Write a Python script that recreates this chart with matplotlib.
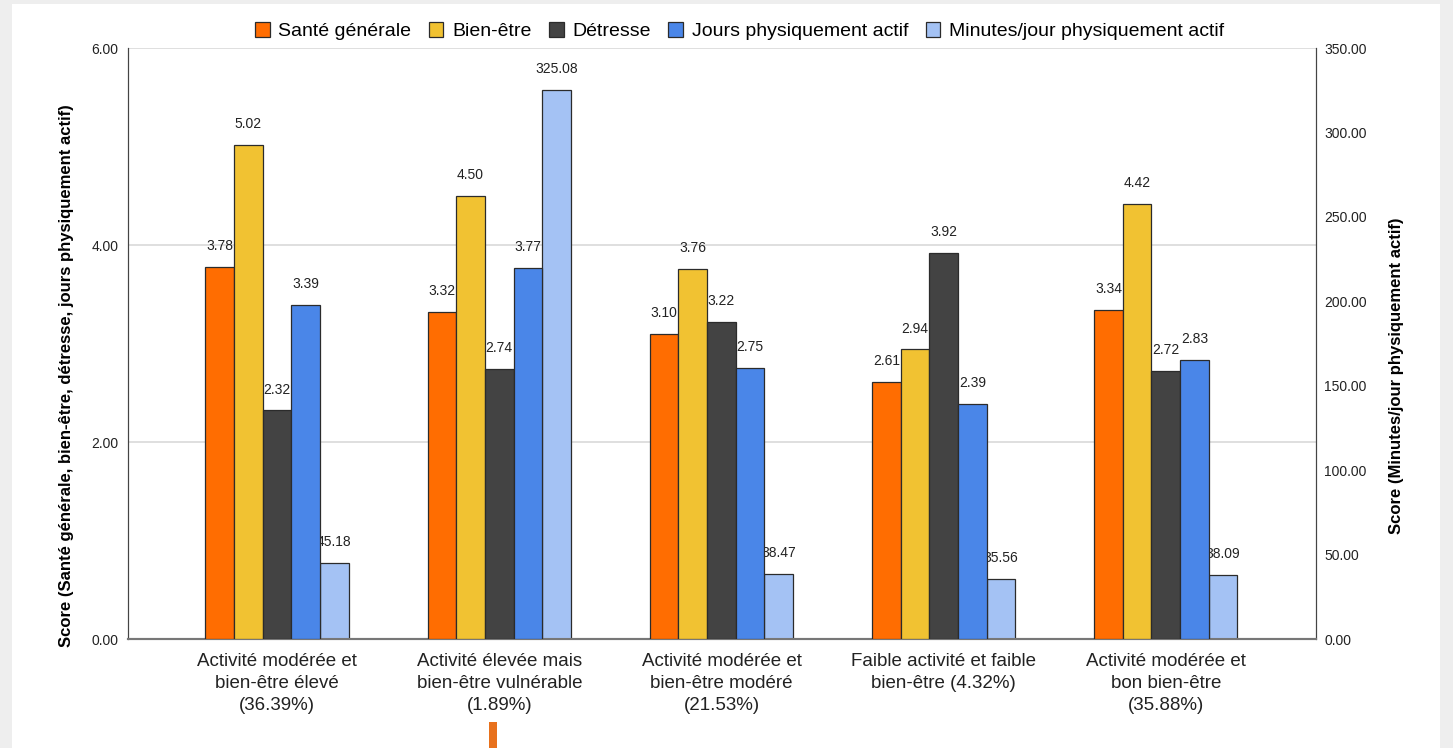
import numpy as np
import matplotlib.pyplot as plt
from matplotlib.patches import Rectangle

plt.rcParams['font.family'] = ['Liberation Sans', 'DejaVu Sans']

categories = [
    "Activité modérée et\nbien-être élevé\n(36.39%)",
    "Activité élevée mais\nbien-être vulnérable\n(1.89%)",
    "Activité modérée et\nbien-être modéré\n(21.53%)",
    "Faible activité et faible\nbien-être (4.32%)",
    "Activité modérée et\nbon bien-être\n(35.88%)",
]
sante = [3.78, 3.32, 3.10, 2.61, 3.34]
bien_etre = [5.02, 4.50, 3.76, 2.94, 4.42]
detresse = [2.32, 2.74, 3.22, 3.92, 2.72]
jours = [3.39, 3.77, 2.75, 2.39, 2.83]
minutes = [45.18, 325.08, 38.47, 35.56, 38.09]

left_series = [
    ("Santé générale", sante, "#FF6D01"),
    ("Bien-être", bien_etre, "#F1C232"),
    ("Détresse", detresse, "#434343"),
    ("Jours physiquement actif", jours, "#4A86E8"),
]
minutes_label = "Minutes/jour physiquement actif"
minutes_color = "#A4C2F4"


def main():
    fig = plt.figure(figsize=(14.53, 7.48), dpi=100)
    fig.patch.set_facecolor("#EEEEEE")
    fig.patches.append(Rectangle((12 / 1453, 0), 1428 / 1453, 744 / 748,
                                 transform=fig.transFigure, facecolor="white",
                                 edgecolor="none", zorder=-10))
    # small orange marker below the chart
    fig.patches.append(Rectangle((489 / 1453, 0), 8 / 1453, 26 / 748,
                                 transform=fig.transFigure, facecolor="#E8711C",
                                 edgecolor="none", zorder=-5))

    ax2 = fig.add_axes([0.0881, 0.1457, 0.8176, 0.7901])
    ax = ax2.twinx()
    ax.yaxis.tick_left()
    ax.yaxis.set_label_position("left")
    ax2.yaxis.tick_right()
    ax2.yaxis.set_label_position("right")
    ax2.patch.set_visible(False)
    ax.patch.set_visible(False)

    x = np.arange(len(categories))
    w = 0.129
    offsets = (np.arange(5) - 2) * w
    handles = []
    for i, (name, vals, col) in enumerate(left_series):
        b = ax.bar(x + offsets[i], vals, w, color=col, edgecolor="#2b2b2b",
                   linewidth=0.9, label=name, zorder=3)
        handles.append(b)
        for xi, v in zip(x, vals):
            ax.annotate(f"{v:.2f}", (xi + offsets[i], v), xytext=(0, 10),
                        textcoords="offset points", ha="center", va="bottom",
                        fontsize=10, color="#222222")
    b = ax2.bar(x + offsets[4], minutes, w, color=minutes_color, edgecolor="#2b2b2b",
                linewidth=0.9, label=minutes_label, zorder=3)
    handles.append(b)
    for xi, v in zip(x, minutes):
        ax2.annotate(f"{v:.2f}", (xi + offsets[4], v), xytext=(0, 10),
                     textcoords="offset points", ha="center", va="bottom",
                     fontsize=10, color="#222222")

    ax.set_xlim(-0.671, 4.676)
    ax.set_ylim(0, 6)
    ax2.set_ylim(0, 350)
    ax.set_yticks([0, 2, 4, 6])
    ax.set_yticklabels([f"{t:.2f}" for t in [0, 2, 4, 6]])
    ax2.set_yticks(np.arange(0, 351, 50))
    ax2.set_yticklabels([f"{t:.2f}" for t in np.arange(0, 351, 50)])
    ax2.grid(False)
    for t in [2, 4, 6]:
        ax2.axhline(t / 6 * 350, color="#D9D9D9", linewidth=1.2, zorder=0)

    ax2.set_xticks(x)
    ax2.set_xticklabels(categories, fontsize=13.5, linespacing=1.38, color="#222222")
    ax2.tick_params(axis="x", length=0, pad=10)
    ax.tick_params(axis="x", bottom=False, labelbottom=False)
    ax.tick_params(axis="y", length=0, pad=7, labelsize=10, labelcolor="#222222")
    ax2.tick_params(axis="y", length=0, pad=6, labelsize=10, labelcolor="#222222")

    for a in (ax, ax2):
        a.spines["top"].set_visible(False)
        a.spines["bottom"].set_color("#777777")
        a.spines["bottom"].set_linewidth(1.5)
        a.spines["left"].set_color("#444444")
        a.spines["right"].set_color("#444444")

    ax.set_ylabel("Score (Santé générale, bien-être, détresse, jours physiquement actif)",
                  fontsize=12, fontweight="bold", labelpad=12, y=0.445)
    ax2.set_ylabel("Score (Minutes/jour physiquement actif)",
                   fontsize=12, fontweight="bold", labelpad=16, y=0.445)

    fig.legend(handles=handles, loc="center", bbox_to_anchor=(0.509, 0.958),
               ncol=5, frameon=False, fontsize=14, handlelength=0.75,
               handleheight=0.75, handletextpad=0.45, columnspacing=0.9)

    fig.savefig("out.png", dpi=100, facecolor=fig.get_facecolor())


if __name__ == '__main__':
    main()
